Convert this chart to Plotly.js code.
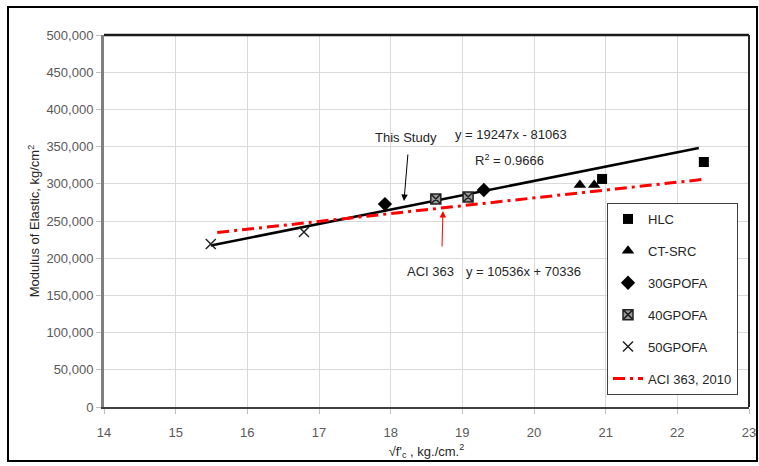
<!DOCTYPE html>
<html>
<head>
<meta charset="utf-8">
<script src="https://cdn.plot.ly/plotly-3.0.1.min.js"></script>
<style>html,body{margin:0;padding:0;background:#fff;}#chart{width:759px;height:466px;}</style>
</head>
<body>
<div id="chart"></div>
<script>
// Data
const hlcX = [20.95, 22.37];
const hlcY = [306500, 329300];
const ctsrcX = [20.64, 20.84];
const ctsrcY = [298400, 298400];
const g30X = [17.92, 19.30];
const g30Y = [272800, 291700];
const g40X = [18.63, 19.08];
const g40Y = [279600, 282300];
const g50X = [15.49, 16.79];
const g50Y = [219000, 235200];
// Trend line (This Study): y = 19247x - 81063
const studyX = [15.49, 22.30];
const studySlope = 19247, studyIntercept = -81063;
// ACI 363, 2010: y = 10536x + 70336
const aciX = [15.58, 22.40];
const aciSlope = 10536, aciIntercept = 70336;
const xTicks = [14,15,16,17,18,19,20,21,22,23];

const studyY = studyX.map(x => studySlope*x + studyIntercept);
const aciY = aciX.map(x => aciSlope*x + aciIntercept);

const FONT = 'Liberation Sans, Arial, sans-serif';

const traces = [
  {x: studyX, y: studyY, mode: 'lines', line: {color: '#000', width: 2.5}, showlegend: false, hoverinfo: 'skip'},
  {x: hlcX, y: hlcY, mode: 'markers', name: 'HLC', legendgroup: 'a',
   marker: {symbol: 'square', size: 10, color: '#000'}},
  {x: ctsrcX, y: ctsrcY, mode: 'markers', name: 'CT-SRC', legendgroup: 'b',
   marker: {symbol: 'triangle-up', size: 11, color: '#000'}},
  {x: g30X, y: g30Y, mode: 'markers', name: '30GPOFA', legendgroup: 'c',
   marker: {symbol: 'diamond', size: 11, color: '#000'}},
  {x: g40X, y: g40Y, mode: 'markers', name: '40GPOFA', legendgroup: 'd',
   marker: {symbol: 'square-x', size: 10, color: '#9a9a9a', line: {color: '#222', width: 1.5}}},
  {x: g50X, y: g50Y, mode: 'markers', name: '50GPOFA', legendgroup: 'e',
   marker: {symbol: 'x-thin-open', size: 10, color: '#222', line: {color: '#222', width: 1.5}}},
  {x: aciX, y: aciY, mode: 'lines', name: 'ACI 363, 2010', legendgroup: 'f',
   line: {color: '#ff0000', width: 3, dash: '12px,5px,3px,5px'}}
];

// plot area geometry (pixels) for frame shapes
const L = 104, R = 10, T = 35, B = 59;
const pw = 759 - L - R, ph = 466 - T - B;
const px = v => (v - L) / pw;
const py = v => (466 - B - v) / ph;

const layout = {
  width: 759, height: 466,
  margin: {l: L, r: R, t: T, b: B},
  paper_bgcolor: '#fff', plot_bgcolor: '#fff',
  font: {family: FONT, size: 13, color: '#404040'},
  xaxis: {
    range: [14, 23], tickvals: xTicks, ticktext: xTicks.map(String),
    showgrid: true, gridcolor: '#d9d9d9', gridwidth: 1,
    showline: true, linecolor: '#404040', linewidth: 2,
    ticks: 'outside', ticklen: 5, tickcolor: '#bfbfbf',
    ticklabelstandoff: 7,
    tickfont: {family: FONT, size: 13, color: '#595959'},
    zeroline: false,
    title: {text: "√f'<sub>c</sub> , kg./cm.<sup>2</sup>", font: {family: FONT, size: 13, color: '#262626'}, standoff: 8}
  },
  yaxis: {
    range: [0, 500000], dtick: 50000, tickformat: ',d',
    showgrid: true, gridcolor: '#d9d9d9', gridwidth: 1,
    showline: true, linecolor: '#808080', linewidth: 3,
    ticks: 'outside', ticklen: 5, tickcolor: '#bfbfbf',
    tickfont: {family: FONT, size: 13, color: '#595959'},
    zeroline: false,
    title: {text: 'Modulus of Elastic, kg/cm<sup>2</sup>', font: {family: FONT, size: 13, color: '#262626'}, standoff: 4}
  },
  legend: {
    x: px(607), y: py(203), xanchor: 'left', yanchor: 'top',
    bgcolor: '#fff', bordercolor: '#404040', borderwidth: 1,
    font: {family: FONT, size: 13, color: '#262626'},
    traceorder: 'grouped', tracegroupgap: 12
  },
  shapes: [
    {type: 'line', xref: 'paper', yref: 'paper', x0: 0, x1: 1, y0: 1, y1: 1, line: {color: '#1a1a1a', width: 2.5}},
    {type: 'line', xref: 'paper', yref: 'paper', x0: 1, x1: 1, y0: 0, y1: 1, line: {color: '#262626', width: 2}},
    {type: 'rect', xref: 'paper', yref: 'paper', x0: px(8), x1: px(757), y0: py(461), y1: py(7), line: {color: '#000', width: 2}, layer: 'below'}
  ],
  annotations: [
    {x: 18.21, y: 362900, text: 'This Study', showarrow: false, font: {family: FONT, size: 13, color: '#262626'}},
    {x: 19.68, y: 366900, text: 'y = 19247x - 81063', showarrow: false, font: {family: FONT, size: 13, color: '#262626'}},
    {x: 19.66, y: 332000, text: 'R<sup>2</sup> = 0.9666', showarrow: false, font: {family: FONT, size: 13, color: '#262626'}},
    {x: 18.55, y: 182800, text: 'ACI 363', showarrow: false, font: {family: FONT, size: 13, color: '#262626'}},
    {x: 19.86, y: 182800, text: 'y = 10536x + 70336', showarrow: false, font: {family: FONT, size: 13, color: '#262626'}},
    {x: 18.186, y: 276900, text: '', showarrow: true, ax: 4, ay: -48, arrowhead: 2, arrowsize: 1.3, arrowwidth: 1, arrowcolor: '#000'},
    {x: 18.73, y: 263400, text: '', showarrow: true, ax: -1, ay: 37, arrowhead: 2, arrowsize: 1.3, arrowwidth: 1, arrowcolor: '#ff0000'}
  ]
};

Plotly.newPlot('chart', traces, layout, {displayModeBar: false, staticPlot: true});
</script>
</body>
</html>
